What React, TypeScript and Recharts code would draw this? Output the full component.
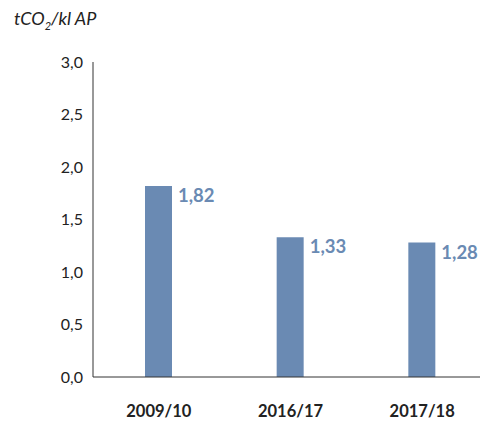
import { BarChart, Bar, XAxis, YAxis, LabelList } from "recharts";

const periods = ["2009/10", "2016/17", "2017/18"];
const intensity = [1.82, 1.33, 1.28];
const yTicks = [0, 0.5, 1, 1.5, 2, 2.5, 3];

const chartData = periods.map((p, i) => ({ period: p, value: intensity[i] }));

const BAR_COLOR = "#6a8ab3";
const FONT = "Lato, 'Open Sans', sans-serif";

const fmt = (v: number, digits: number) => v.toFixed(digits).replace(".", ",");

function ValueLabel(props: any) {
  const { x, y, width, value } = props;
  return (
    <text
      x={x + width + 6}
      y={y + 9}
      fill={BAR_COLOR}
      fontSize={18.5}
      fontWeight={700}
      fontFamily={FONT}
      dominantBaseline="central"
    >
      {fmt(value, 2)}
    </text>
  );
}

export default function App() {
  return (
    <div style={{ position: "absolute", left: 0, top: 0, width: 482, height: 421, background: "#fff" }}>
      <div
        style={{
          position: "absolute",
          left: 14,
          top: 7,
          fontFamily: FONT,
          fontStyle: "italic",
          fontSize: 18,
          color: "#222",
        }}
      >
        tCO<sub style={{ fontSize: 11 }}>2</sub>/kl AP
      </div>
      <BarChart
        width={482}
        height={421}
        data={chartData}
        margin={{ top: 62, right: 2, left: 0, bottom: 0 }}
      >
        <XAxis
          dataKey="period"
          height={44}
          padding={{ left: 0, right: -8 }}
          axisLine={{ stroke: "#333", strokeWidth: 1 }}
          tickLine={false}
          tick={{ fill: "#222", fontSize: 16.5, fontWeight: 700, fontFamily: FONT }}
          tickMargin={22}
        />
        <YAxis
          width={93}
          domain={[0, 3]}
          ticks={yTicks}
          interval={0}
          axisLine={{ stroke: "#333", strokeWidth: 1 }}
          tickLine={false}
          tickMargin={4}
          tickFormatter={(v: number) => fmt(v, 1)}
          tick={{ fill: "#222", fontSize: 16, fontFamily: FONT }}
        />
        <Bar dataKey="value" fill={BAR_COLOR} barSize={27} isAnimationActive={false}>
          <LabelList dataKey="value" content={ValueLabel} />
        </Bar>
      </BarChart>
    </div>
  );
}
